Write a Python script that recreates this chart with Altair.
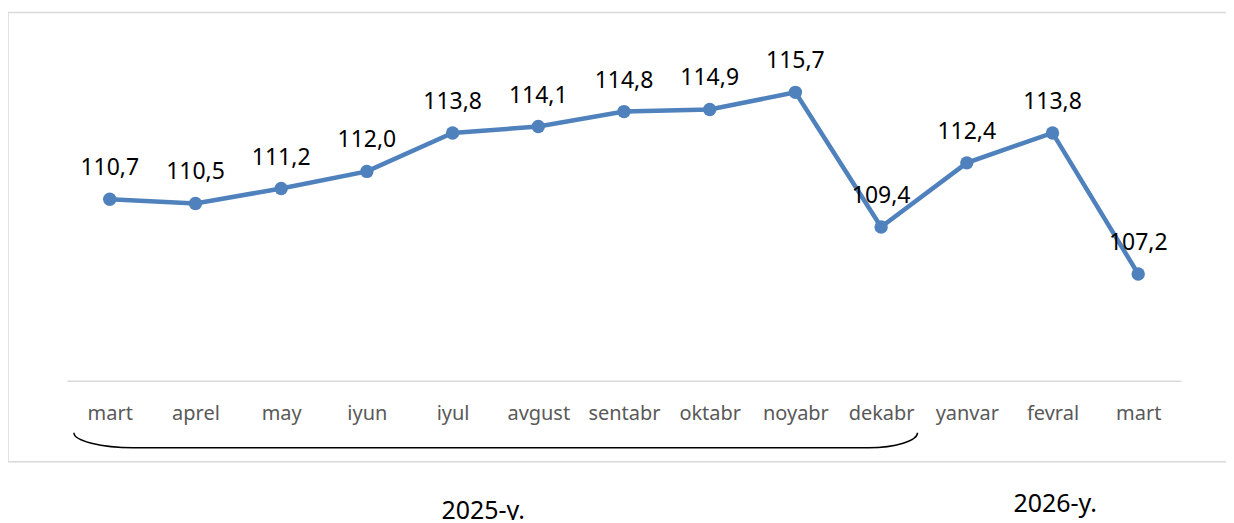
import altair as alt
import pandas as pd

months = ["mart", "aprel", "may", "iyun", "iyul", "avgust", "sentabr",
          "oktabr", "noyabr", "dekabr", "yanvar", "fevral", "mart"]
years = [2025] * 10 + [2026] * 3
values = [110.7, 110.5, 111.2, 112.0, 113.8, 114.1, 114.8, 114.9, 115.7,
          109.4, 112.4, 113.8, 107.2]
year_labels = ["2025-y.", "2026-y."]

df = pd.DataFrame({
    "key": [f"{m} {y}" for m, y in zip(months, years)],
    "value": values,
})

W, H = 1116, 351
LINE = "#4f81bd"
FONT = "Noto Sans"

x = alt.X("key:O", sort=None, title=None,
          axis=alt.Axis(labelExpr="split(datum.value, ' ')[0]", labelAngle=0,
                        ticks=False, tickSize=0, domainColor="#d9d9d9",
                        domainWidth=1.5, labelColor="#595959", labelFont=FONT,
                        labelFontSize=20, labelBaseline="alphabetic",
                        labelPadding=39, grid=False))
y = alt.Y("value:Q", scale=alt.Scale(domain=[102.2, 118.6], zero=False, nice=False),
          axis=None)

base = alt.Chart(df)

line = base.mark_line(color=LINE, strokeWidth=4.5).encode(x=x, y=y)
pts = base.mark_point(filled=True, color=LINE, size=180, opacity=1).encode(x=x, y=y)
labels = base.transform_calculate(
    lab="replace(format(datum.value, '.1f'), '.', ',')"
).mark_text(dy=-31, fontSize=23, font=FONT, color="black", baseline="middle").encode(
    x=x, y=y, text="lab:N")

one = alt.Chart(pd.DataFrame({"a": [0]}))
border = one.mark_rect(fill="transparent", stroke="#d9d9d9", strokeWidth=1.5).encode(
    x=alt.value(-59), x2=alt.value(1190), y=alt.value(-18), y2=alt.value(432))

brace_path = ("M -1 -0.01775 C -1 0.00118 -0.9361 0.01775 -0.858 0.01775 "
              "L 0.884 0.01775 C 0.9479 0.01775 1 0.00118 1 -0.01775")
brace = one.mark_point(shape=brace_path, size=714025, filled=False, stroke="black",
                       strokeWidth=1.5, opacity=1).encode(
    x=alt.value(429.5), y=alt.value(410.5))

yl = pd.DataFrame({"t": year_labels})
year1 = alt.Chart(yl.iloc[[0]]).mark_text(fontSize=25, font=FONT, color="black",
                                          baseline="alphabetic").encode(
    x=alt.value(417), y=alt.value(489), text="t:N")
year2 = alt.Chart(yl.iloc[[1]]).mark_text(fontSize=25, font=FONT, color="black",
                                          baseline="alphabetic").encode(
    x=alt.value(990), y=alt.value(482), text="t:N")

chart = alt.layer(border, line, pts, labels, brace, year1, year2).properties(
    width=W, height=H,
    autosize=alt.AutoSizeParams(type="none"),
    padding={"left": 59, "top": 22, "right": 45, "bottom": 139},
    background="white",
).configure_view(strokeWidth=0)

chart.save("out.html", embed_options={"renderer": "svg", "actions": False})
